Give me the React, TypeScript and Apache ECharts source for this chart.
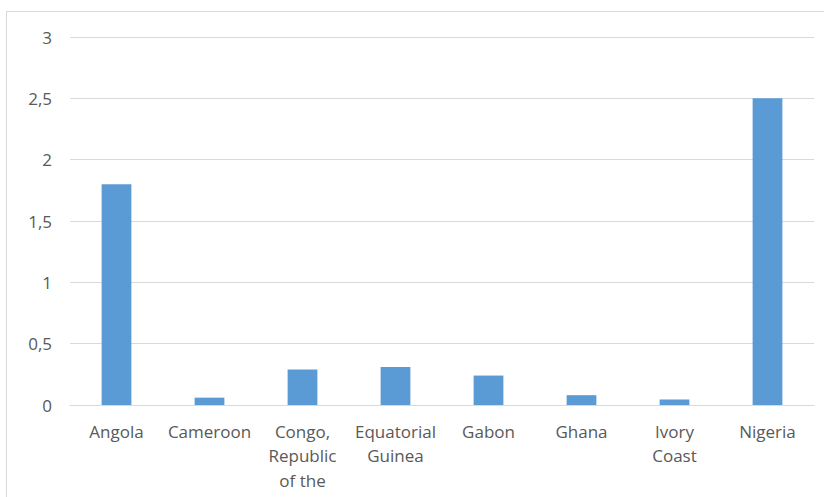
import React, { useEffect, useRef } from "react";
import * as echarts from "echarts";

const categories = [
  "Angola",
  "Cameroon",
  "Congo,\nRepublic\nof the",
  "Equatorial\nGuinea",
  "Gabon",
  "Ghana",
  "Ivory\nCoast",
  "Nigeria",
];
const values = [1.8, 0.06, 0.29, 0.31, 0.24, 0.08, 0.045, 2.5];
const yTicks = { min: 0, max: 3, interval: 0.5 };

export default function App() {
  const ref = useRef<HTMLDivElement>(null);
  useEffect(() => {
    if (!ref.current) return;
    const chart = echarts.init(ref.current, undefined, { renderer: "svg" });
    const font = "'Open Sans', sans-serif";
    chart.setOption({
      animation: false,
      backgroundColor: "#ffffff",
      textStyle: { fontFamily: font },
      graphic: [
        {
          type: "rect",
          shape: { x: 6.5, y: 11.5, width: 840, height: 520 },
          style: { fill: "none", stroke: "#d9d9d9", lineWidth: 1 },
          silent: true,
        },
      ],
      grid: { left: 70, right: 10, top: 37, bottom: 92 },
      xAxis: {
        type: "category",
        data: categories,
        axisLine: { lineStyle: { color: "#d9d9d9" } },
        axisTick: { show: false },
        axisLabel: {
          color: "#595959",
          fontSize: 17,
          lineHeight: 24.5,
          margin: 14,
          interval: 0,
          fontFamily: font,
        },
      },
      yAxis: {
        type: "value",
        min: yTicks.min,
        max: yTicks.max,
        interval: yTicks.interval,
        axisLine: { show: false },
        axisTick: { show: false },
        splitLine: { lineStyle: { color: "#d9d9d9" } },
        axisLabel: {
          color: "#595959",
          fontSize: 17,
          margin: 18,
          fontFamily: font,
          formatter: (v: number) => String(v).replace(".", ","),
        },
      },
      series: [
        {
          type: "bar",
          data: values,
          barWidth: "32%",
          itemStyle: { color: "#5b9bd5" },
        },
      ],
    });
    return () => chart.dispose();
  }, []);
  return (
    <div
      ref={ref}
      style={{ position: "fixed", left: 0, top: 0, width: 824, height: 497 }}
    />
  );
}
